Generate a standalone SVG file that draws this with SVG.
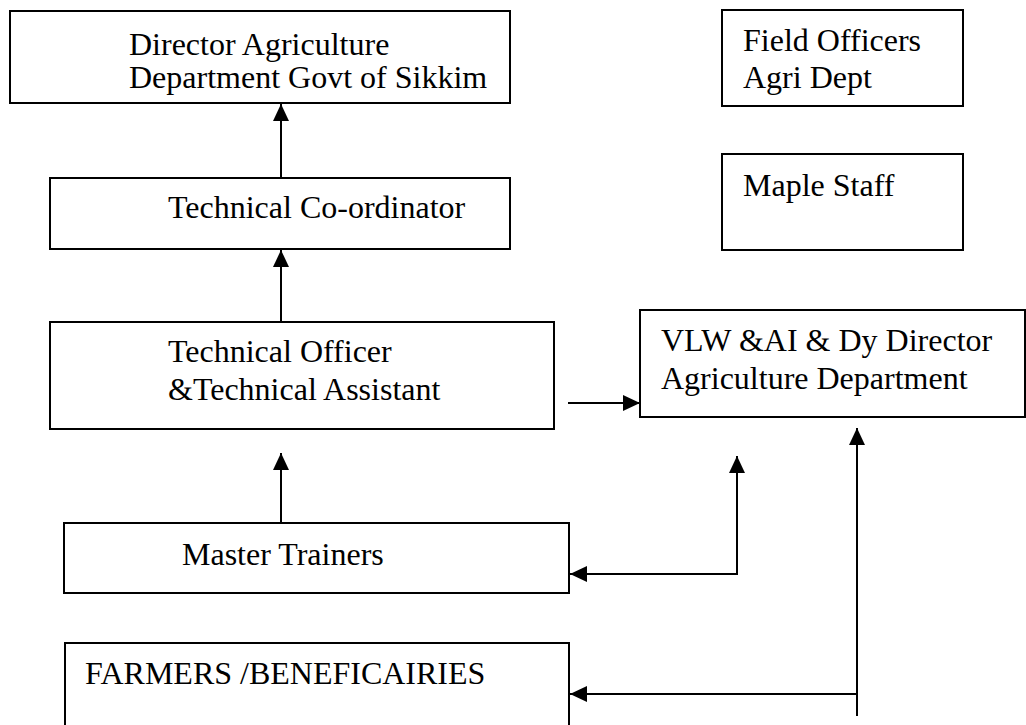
<svg xmlns="http://www.w3.org/2000/svg" width="1026" height="725" viewBox="0 0 1026 725">
<style>
.box{fill:#fff;stroke:#000;stroke-width:2}
.t{font-family:"Liberation Serif","Times New Roman",serif;font-size:32px;fill:#000}
.c{fill:none;stroke:#000;stroke-width:2;marker-end:url(#ah)}
</style>
<defs>
<marker id="ah" markerUnits="userSpaceOnUse" markerWidth="17" markerHeight="16" refX="17" refY="8" orient="auto" viewBox="0 0 17 16">
<path d="M0,0 L17,8 L0,16 z" fill="#000"/>
</marker>
</defs>
<rect width="1026" height="725" fill="#fff"/>
<g id="director">
<rect class="box" x="10" y="11" width="500" height="92"/>
<text class="t" x="129" y="55">Director Agriculture</text>
<text class="t" x="129" y="88">Department Govt of Sikkim</text>
</g>
<g id="field-officers">
<rect class="box" x="722" y="10" width="241" height="96"/>
<text class="t" x="743" y="51">Field Officers</text>
<text class="t" x="743" y="88">Agri Dept</text>
</g>
<g id="maple-staff">
<rect class="box" x="722" y="154" width="241" height="96"/>
<text class="t" x="743" y="196">Maple Staff</text>
</g>
<g id="tech-coordinator">
<rect class="box" x="50" y="178" width="460" height="71"/>
<text class="t" x="168" y="218">Technical Co-ordinator</text>
</g>
<g id="tech-officer">
<rect class="box" x="50" y="322" width="504" height="107"/>
<text class="t" x="168" y="362">Technical Officer</text>
<text class="t" x="168" y="400">&amp;Technical Assistant</text>
</g>
<g id="vlw">
<rect class="box" x="640" y="310" width="385" height="107"/>
<text class="t" x="661" y="351">VLW &amp;AI &amp; Dy Director</text>
<text class="t" x="661" y="389">Agriculture Department</text>
</g>
<g id="master-trainers">
<rect class="box" x="64" y="523" width="505" height="70"/>
<text class="t" x="182" y="565">Master Trainers</text>
</g>
<g id="farmers">
<path d="M65,726 L65,643 L569,643 L569,726" fill="#fff" stroke="#000" stroke-width="2"/>
<text class="t" x="85" y="684">FARMERS /BENEFICAIRIES</text>
</g>
<g id="connectors">
<path class="c" d="M281,178 L281,104"/>
<path class="c" d="M281,322 L281,250"/>
<path class="c" d="M281,523 L281,453"/>
<path class="c" d="M568,403 L640,403"/>
<path class="c" d="M737,574 L737,456"/>
<path class="c" d="M738,574 L570,574"/>
<path class="c" d="M857,716 L857,428"/>
<path class="c" d="M857,694 L570,694"/>
</g>
</svg>
